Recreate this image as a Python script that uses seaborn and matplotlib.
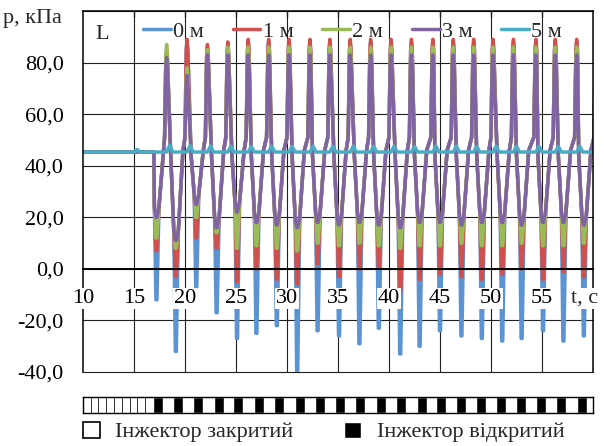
import pandas as pd
import matplotlib
matplotlib.use('Agg')
import matplotlib.pyplot as plt
import seaborn as sns
from matplotlib.patches import Patch
from matplotlib.lines import Line2D

# ---------------- data ----------------
series_names = ['0 м', '1 м', '2 м', '3 м', '5 м']
colors = ['#5B93D3', '#D0504D', '#9BBB59', '#8064A2', '#4BACC6']

# trough / peak times of each pump cycle, s
trough_t = [17.2, 19.1, 21.1, 23.1, 25.1, 27.0, 29.0, 31.0, 33.0, 35.1, 37.1,
            39.0, 41.1, 43.0, 45.0, 47.1, 49.1, 51.1, 53.0, 55.1, 57.1, 59.1]
peak_t = [18.2, 20.2, 22.2, 24.2, 26.2, 28.2, 30.2, 32.25, 34.2, 36.2, 38.2,
          40.2, 42.2, 44.3, 46.3, 48.3, 50.2, 52.2, 54.4, 56.3, 58.4, 60.3]

# minima at each trough, kPa
min_0m = [-12, -32, -7, -17, -27, -25, -22, -40, -24, -26, -29,
          -23, -33, -30, -24, -26, -27, -28, -27, -24, -28, -26]
min_1m = [7, -3, 12, 8, -5, 0, -4, -6, 2, -3, 0,
          1, -9, -4, -2, -3, -4, -2, 0, -4, -1, -3]
min_2m = [12, 8, 20, 14, 8, 9, 8, 7, 10, 9, 10,
          9, 8, 9, 9, 10, 9, 9, 10, 9, 9, 10]
min_3m = [20, 11, 25, 16, 22, 18, 17, 16, 18, 17, 18,
          17, 16, 18, 18, 17, 18, 18, 17, 18, 18, 17]

# maxima at each peak, kPa
peak_0m = [84, 88, 86, 87, 88, 88, 88, 88, 88, 88, 88,
           88, 88, 88, 88, 88, 88, 88, 88, 88, 88, 88]
peak_1m = [85, 89, 87, 88, 89, 89, 89, 89, 89, 89, 89,
           89, 89, 89, 89, 89, 89, 89, 89, 89, 89, 89]
peak_2m = [87, 78, 85, 86, 86, 86, 86, 86, 86, 86, 86,
           86, 86, 86, 86, 86, 86, 86, 86, 86, 86, 86]
peak_3m = [82, 75, 83, 83, 83, 83, 83, 83, 83, 83, 83,
           83, 83, 83, 83, 83, 83, 83, 83, 83, 83, 83]

p_rest = 45.3          # pressure before the injector opens
fall_level = 44.0      # on the falling edge
rise_level = 46.0      # start of the shoulder
shoulder_level = 51.0  # end of the shoulder
peak_round = 4.0       # drop either side of the peak top

# 5 m trace: small bumps after each peak
bump_t = [15.3, 18.5, 20.5, 22.5, 24.5, 26.5, 28.5, 30.5, 32.55, 34.5, 36.5,
          38.5, 40.5, 42.5, 44.6, 46.6, 48.6, 50.5, 52.5, 54.7, 56.6, 58.7]
bump_p = [46.3, 48.0, 47.8, 47.6, 47.6, 47.5, 47.6, 47.5, 47.6, 47.5, 47.6,
          47.5, 47.6, 47.5, 47.6, 47.6, 47.5, 47.6, 47.5, 47.6, 47.5, 47.6]

# injector state strip
closed_edges = [10.0, 10.77, 11.5, 12.26, 13.04, 13.8, 14.6, 15.3, 16.1, 16.9]
open_start = [16.9, 18.85, 20.8, 22.8, 24.75, 26.75, 28.75, 30.75, 32.75, 34.7,
              36.7, 38.7, 40.7, 42.7, 44.6, 46.6, 48.5, 50.45, 52.45, 54.4,
              56.4, 58.4]
open_width = 0.98

xticks = [10, 15, 20, 25, 30, 35, 40, 45, 50, 55]
yticks = [-40, -20, 0, 20, 40, 60, 80]
ytick_labels = ['-40,0', '-20,0', '0,0', '20,0', '40,0', '60,0', '80,0']


def trace(mins, peaks):
    t, p = [10.0, 16.95], [p_rest, p_rest]
    for k, T in enumerate(trough_t):
        L = min_3m[k] + 4
        if k > 0:
            t.append(T - 0.5)
            p.append(fall_level)
        P = peak_t[k]
        t += [T - 0.2, T - 0.05, T + 0.05, T + 0.25, T + 0.7, P - 0.2,
              P - 0.08, P, P + 0.08]
        p += [L, mins[k], mins[k], L, rise_level, shoulder_level,
              peaks[k] - peak_round, peaks[k], peaks[k] - peak_round]
    return t, p


frames = []
for name, mins, peaks in zip(series_names[:4], [min_0m, min_1m, min_2m, min_3m],
                             [peak_0m, peak_1m, peak_2m, peak_3m]):
    t, p = trace(mins, peaks)
    frames.append(pd.DataFrame({'t': t, 'p': p, 'series': name}))

ct, cp = [10.0], [p_rest]
for b, v in zip(bump_t, bump_p):
    ct += [b - 0.3, b, b + 0.3]
    cp += [p_rest, v, p_rest]
ct.append(60.5)
cp.append(p_rest)
frames.append(pd.DataFrame({'t': ct, 'p': cp, 'series': '5 м'}))
df = pd.concat(frames, ignore_index=True)

# ---------------- plot ----------------
sns.set_style('white')
plt.rcParams['font.family'] = 'serif'
plt.rcParams['font.serif'] = ['Liberation Serif', 'DejaVu Serif']
fs = 16

fig = plt.figure(figsize=(6.04, 4.46), dpi=100)
W, H = 604, 446
ax = fig.add_axes([83 / W, 1 - 372 / H, 510 / W, 361 / H])

for y in yticks:
    ax.axhline(y, color='#202020', lw=0.8, zorder=0.5, clip_on=False)
for x in xticks[1:]:
    ax.axvline(x, color='#202020', lw=0.8, zorder=0.5)

sns.lineplot(data=df, x='t', y='p', hue='series', hue_order=series_names,
             palette=colors, estimator=None, sort=False, lw=2.5, legend=False, ax=ax)

ax.set_xlim(10, 60)
ax.set_ylim(-40, 100)
ax.set_axisbelow(False)
ax.set_xlabel('')
ax.set_ylabel('')

for s in ['left', 'top', 'right', 'bottom']:
    ax.spines[s].set_visible(True)
    ax.spines[s].set_color('black')
    ax.spines[s].set_linewidth(1.1)
ax.spines['bottom'].set_position(('data', 0))
ax.spines['bottom'].set_linewidth(1.4)

ax.set_xticks(xticks)
ax.set_xticklabels([str(v) for v in xticks])
ax.set_yticks(yticks)
ax.set_yticklabels(ytick_labels)
ax.tick_params(axis='x', direction='inout', length=9, width=1.1, pad=10,
               labelsize=fs, colors='black')
ax.tick_params(axis='y', direction='out', length=5, width=1.1, pad=9,
               labelsize=fs, colors='black')
for tick in ax.xaxis.get_major_ticks():
    tick.label1.set_bbox(dict(facecolor='white', edgecolor='none', pad=1))

top = ax.secondary_xaxis('top')
top.set_xticks(xticks[1:])
top.tick_params(direction='in', length=4, width=1, labeltop=False)

ax.text(57.8, -11.5, 't, с', fontsize=fs, ha='left', va='center',
        bbox=dict(facecolor='white', edgecolor='none', pad=1))
ax.text(11.9, 91, 'L', fontsize=fs, ha='center', va='center')
fig.text(3 / W, 1 - 19 / H, 'p, кПа', fontsize=fs, ha='left', va='center')

leg_handles = [Line2D([], [], color=c, lw=2.5) for c in colors]
ax.legend(leg_handles, series_names, loc='center left',
          bbox_to_anchor=(143 / W, 1 - 32 / H), bbox_transform=fig.transFigure,
          ncol=5, frameon=False, fontsize=fs, handlelength=1.25,
          handletextpad=0.1, columnspacing=1.3, borderpad=0, borderaxespad=0)

# injector strip
ax2 = fig.add_axes([83 / W, 1 - 413 / H, 510 / W, 16 / H])
ax2.broken_barh([(a, b - a) for a, b in zip(closed_edges[:-1], closed_edges[1:])],
                (0, 1), facecolors='white', edgecolors='#333333', linewidth=0.7)
ax2.broken_barh([(s, open_width) for s in open_start], (0, 1), facecolors='black')
ax2.set_xlim(10, 60)
ax2.set_ylim(0, 1)
ax2.set_xticks([])
ax2.set_yticks([])
for s in ax2.spines.values():
    s.set_visible(True)
    s.set_color('black')
    s.set_linewidth(1)

fig.legend([Patch(facecolor='white', edgecolor='black', lw=1.2), Patch(facecolor='black')],
           ['Інжектор закритий', 'Інжектор відкритий'], loc='center left',
           bbox_to_anchor=(83 / W, 1 - 432 / H), ncol=2, frameon=False, fontsize=fs,
           handlelength=0.75, handleheight=0.75, handletextpad=0.7, columnspacing=2.3,
           borderpad=0, borderaxespad=0)

fig.savefig('out.png', dpi=100)
